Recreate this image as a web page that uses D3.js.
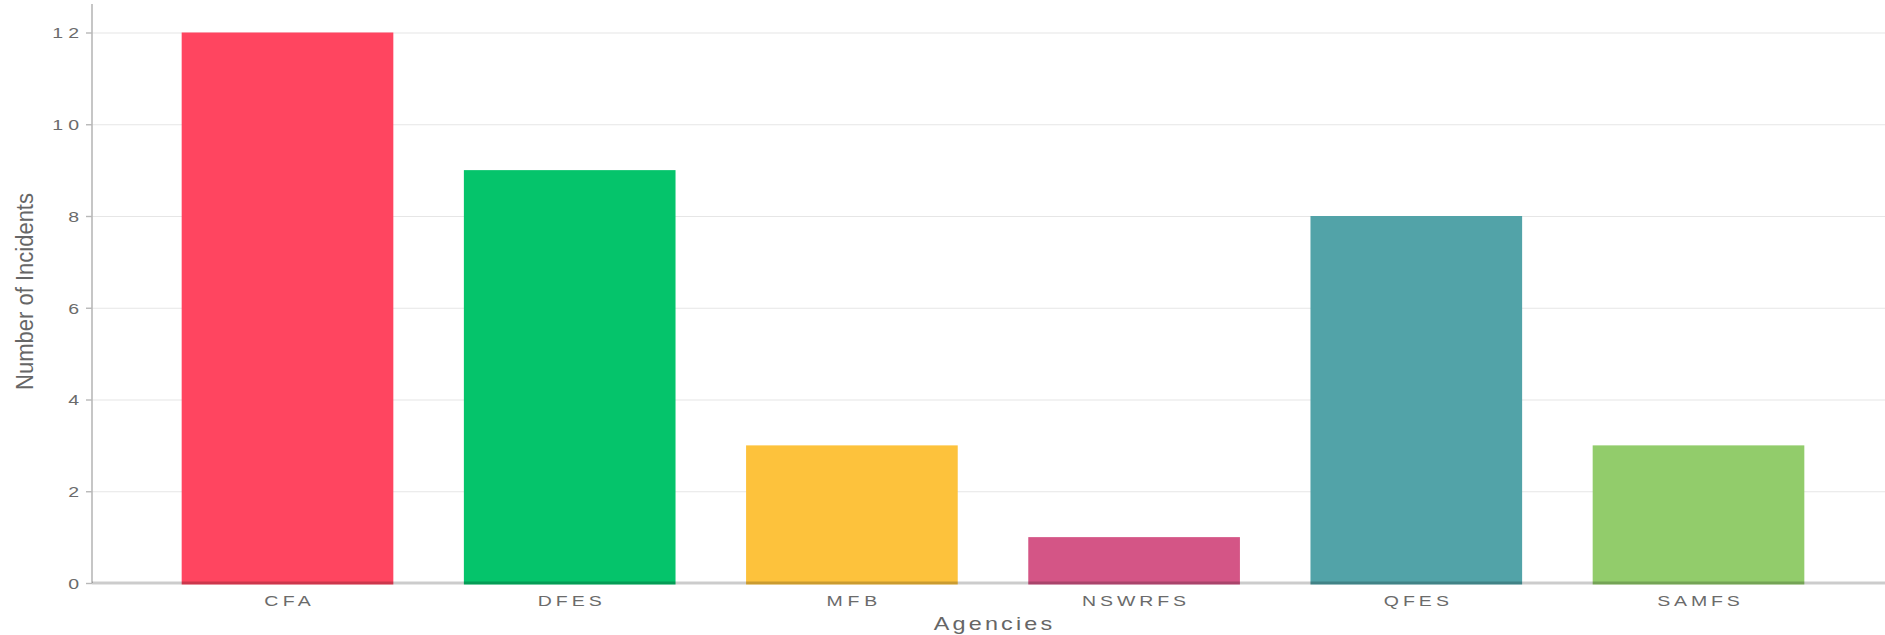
<!DOCTYPE html>
<html>
<head>
<meta charset="utf-8">
<script src="https://cdn.jsdelivr.net/npm/d3@7"></script>
<style>
  body { margin: 0; background: #fff; }
  text { font-family: "Liberation Sans", Arial, sans-serif; fill: #666; }
</style>
</head>
<body>
<div id="chart"></div>
<script>
const width = 1885;
const height = 635;

// data
const agencies = ["CFA", "DFES", "MFB", "NSWRFS", "QFES", "SAMFS"];
const incidents = [12, 9, 3, 1, 8, 3];
const barColors = ["#FF4560", "#05C46B", "#FDC23C", "#D45586", "#52A3A8", "#92CC6B"];
const yTicks = [0, 2, 4, 6, 8, 10, 12];

// the screenshot is stretched sideways: glyphs a bit wider, plus extra gaps
const glyphScale = 1.3;
const totalStretch = 1.6;

const svg = d3.select("#chart")
    .append("svg")
    .attr("width", width)
    .attr("height", height);

const x = d3.scaleBand()
    .domain(agencies)
    .range([146.4, 1839.6])
    .paddingInner(0.25)
    .paddingOuter(0.125);

const y = d3.scaleLinear()
    .domain([0, 12])
    .range([583, 32.5]);

const axisX = 92;

// grid lines
svg.append("g")
    .attr("transform", `translate(${axisX},0)`)
    .call(d3.axisLeft(y).tickValues(yTicks.slice(1)).tickSize(-(width - axisX)).tickFormat(""))
    .call(g => g.select(".domain").remove())
    .call(g => g.selectAll("line").attr("stroke", "#e6e6e6").attr("stroke-width", 1.2));

// y axis with ticks
const yAxis = svg.append("g")
    .attr("transform", `translate(${axisX},0)`)
    .call(d3.axisLeft(y).tickValues(yTicks).tickSize(6).tickPadding(4).tickFormat(d3.format("d")));
yAxis.select(".domain").attr("d", `M0,4V${y(0)}`).attr("stroke", "#b8b8b8").attr("stroke-width", 1.6);
yAxis.selectAll(".tick line").attr("stroke", "#b8b8b8").attr("stroke-width", 1.4);
yAxis.selectAll(".tick text")
    .attr("font-size", 15)
    .attr("dy", "0.36em")
    .style("fill", "#6b6b6b");

// bars
svg.append("g")
    .selectAll("rect")
    .data(agencies)
    .join("rect")
    .attr("x", d => x(d))
    .attr("width", x.bandwidth())
    .attr("y", (d, i) => y(incidents[i]))
    .attr("height", (d, i) => y(0) - y(incidents[i]) + 1.5)
    .attr("fill", (d, i) => barColors[i]);

// x axis (zero line on top of bars)
const xAxis = svg.append("g")
    .attr("transform", `translate(0,${y(0)})`)
    .call(d3.axisBottom(x).tickSize(0).tickPadding(12));
xAxis.select(".domain").attr("d", `M${axisX},0H${width}`)
    .attr("stroke", "#000").attr("stroke-opacity", 0.2).attr("stroke-width", 3);
xAxis.selectAll(".tick text")
    .attr("font-size", 15)
    .attr("dy", "0.71em")
    .style("fill", "#6b6b6b");

// axis titles
svg.append("g")
    .attr("transform", "translate(993,630)")
    .append("text")
    .attr("text-anchor", "middle")
    .attr("font-size", 18)
    .attr("class", "stretch")
    .text("Agencies");

svg.append("text")
    .attr("transform", "translate(33,291.5) rotate(-90)")
    .attr("text-anchor", "middle")
    .attr("font-size", 23)
    .attr("textLength", 197)
    .attr("lengthAdjust", "spacingAndGlyphs")
    .text("Number of Incidents");

// widen horizontal labels to match the stretched look
svg.selectAll(".tick text, text.stretch").each(function() {
    const w = this.getComputedTextLength();
    d3.select(this)
        .attr("textLength", w * totalStretch / glyphScale)
        .attr("lengthAdjust", "spacing")
        .attr("transform", `scale(${glyphScale},1)`);
});
</script>
</body>
</html>
